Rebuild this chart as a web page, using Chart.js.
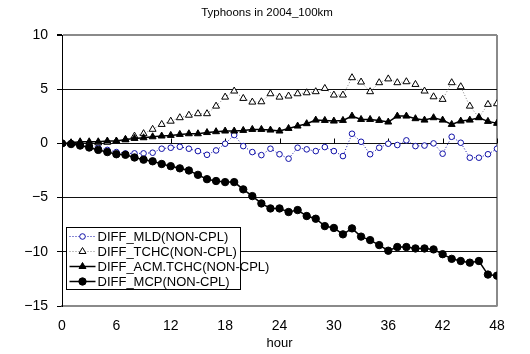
<!DOCTYPE html>
<html><head><meta charset="utf-8">
<script src="https://cdn.jsdelivr.net/npm/chart.js@4.4.1/dist/chart.umd.min.js"></script>
<style>html,body{margin:0;padding:0;background:#fff}#wrap{width:530px;height:354px}</style>
</head><body><div id="wrap"><canvas id="c" width="530" height="354"></canvas></div>
<script>
const hours = [0,1,2,3,4,5,6,7,8,9,10,11,12,13,14,15,16,17,18,19,20,21,22,23,24,25,26,27,28,29,30,31,32,33,34,35,36,37,38,39,40,41,42,43,44,45,46,47,48];
const mld = [0,-0.05,-0.1,-0.2,-0.4,-0.6,-0.8,-0.92,-0.92,-0.92,-0.86,-0.49,-0.4,-0.31,-0.49,-0.71,-1.05,-0.65,-0.03,0.77,-0.25,-0.8,-1.08,-0.49,-1.0,-1.41,-0.4,-0.55,-0.71,-0.34,-0.71,-1.17,0.89,0.15,-1.0,-0.4,-0.03,-0.15,0.28,-0.25,-0.2,0.0,-0.95,0.61,0.06,-1.32,-1.32,-1.0,-0.49];
const tchc = [0,0,0,0,0.05,0.1,0.2,0.33,0.67,0.9,1.3,1.75,2.05,2.37,2.6,2.74,2.74,3.44,4.27,4.83,4.15,3.81,3.84,4.58,4.27,4.37,4.58,4.67,4.77,5.07,4.46,4.46,6.06,5.66,4.77,5.6,5.95,5.6,5.69,5.44,4.83,4.3,4.06,5.6,5.23,3.44,2.4,3.6,3.66];
const acm = [0,0.06,0.15,0.15,0.15,0.22,0.22,0.37,0.46,0.52,0.61,0.68,0.74,0.83,0.89,0.89,1.0,1.08,1.14,1.14,1.2,1.29,1.29,1.23,1.14,1.38,1.6,1.82,2.15,2.12,2.06,2.12,2.52,2.21,2.21,2.12,1.97,2.52,2.52,2.28,2.15,2.37,2.15,1.75,2.06,2.15,2.37,2.03,1.85];
const mcp = [0,-0.06,-0.2,-0.38,-0.6,-0.8,-1.0,-1.05,-1.3,-1.5,-1.65,-1.9,-2.1,-2.3,-2.5,-2.9,-3.3,-3.47,-3.57,-3.57,-4.24,-4.86,-5.54,-6.0,-6.0,-6.33,-6.15,-6.7,-6.95,-7.63,-7.8,-8.39,-7.84,-8.6,-8.92,-9.38,-9.9,-9.56,-9.56,-9.69,-9.69,-9.78,-10.22,-10.65,-10.85,-11.0,-10.85,-12.1,-12.2];
const xTicks = [0,6,12,18,24,30,36,42,48];
const yTicks = [-15,-10,-5,0,5,10];
const seriesNames = ['DIFF_MLD(NON-CPL)','DIFF_TCHC(NON-CPL)','DIFF_ACM.TCHC(NON-CPL)','DIFF_MCP(NON-CPL)'];
const titleText = 'Typhoons in 2004_100km';
const xTitle = 'hour';

const FONT = "'Liberation Sans', Arial, sans-serif";
Chart.defaults.font.family = FONT;
Chart.defaults.color = '#000';

const pts = arr => hours.map((h, i) => ({x: h, y: arr[i]}));

function marker(ctx, style, r, x, y) {
  ctx.beginPath();
  if (style === 'circle') {
    ctx.arc(x, y, r, 0, Math.PI * 2);
  } else {
    let a = 0;
    ctx.moveTo(x + Math.sin(a) * r, y - Math.cos(a) * r);
    a += 2 * Math.PI / 3;
    ctx.lineTo(x + Math.sin(a) * r, y - Math.cos(a) * r);
    a += 2 * Math.PI / 3;
    ctx.lineTo(x + Math.sin(a) * r, y - Math.cos(a) * r);
    ctx.closePath();
  }
  ctx.fill(); ctx.stroke();
}

const titleShift = {
  id: 'titleShift',
  afterLayout(chart) {
    if (chart.titleBlock) { chart.titleBlock.left += 37; }
  }
};

const zeroAxisTicks = {
  id: 'zeroAxisTicks',
  beforeDatasetsDraw(chart) {
    const {ctx, scales: {x, y}} = chart;
    const y0 = Math.round(y.getPixelForValue(0)) + 0.5;
    ctx.save();
    ctx.strokeStyle = '#000'; ctx.lineWidth = 1;
    ctx.beginPath();
    x.ticks.forEach(t => {
      if (t.value === 0) return;
      const px = Math.round(x.getPixelForValue(t.value)) + 0.5;
      ctx.moveTo(px, y0); ctx.lineTo(px, y0 - 5);
    });
    ctx.stroke();
    ctx.restore();
  }
};

const boxLegend = {
  id: 'boxLegend',
  afterDatasetsDraw(chart) {
    const {ctx, chartArea: ca} = chart;
    const left = Math.round(ca.left + 4) + 0.5;
    const top = Math.round(ca.top + 192) + 0.5;
    const w = 174, h = 62;
    ctx.save();
    ctx.fillStyle = '#fff'; ctx.strokeStyle = '#000'; ctx.lineWidth = 1;
    ctx.fillRect(left, top, w, h);
    ctx.strokeRect(left, top, w, h);
    chart.data.datasets.forEach((ds, i) => {
      const cy = top + 9 + i * 15;
      ctx.save();
      ctx.strokeStyle = ds.borderColor; ctx.lineWidth = ds.borderWidth;
      ctx.setLineDash(ds.borderDash || []);
      ctx.beginPath(); ctx.moveTo(left + 3, cy); ctx.lineTo(left + 29, cy); ctx.stroke();
      ctx.setLineDash([]);
      ctx.lineWidth = ds.pointBorderWidth;
      ctx.strokeStyle = ds.pointBorderColor; ctx.fillStyle = ds.pointBackgroundColor;
      marker(ctx, ds.pointStyle, ds.pointRadius, left + 16, cy);
      ctx.restore();
      ctx.fillStyle = '#000';
      ctx.font = "13px 'Liberation Sans Narrow', 'Liberation Sans', Arial, sans-serif";
      ctx.textBaseline = 'middle'; ctx.textAlign = 'left';
      ctx.fillText(ds.label, left + 31, cy + 0.5);
    });
    ctx.restore();
  }
};

new Chart(document.getElementById('c'), {
  type: 'line',
  data: {
    datasets: [
      {label: seriesNames[0], data: pts(mld), order: 4, borderColor: '#1010a8', borderWidth: 1, borderDash: [1, 2],
       pointStyle: 'circle', pointRadius: 2.8, pointBorderColor: '#1010a8', pointBackgroundColor: '#fff', pointBorderWidth: 1},
      {label: seriesNames[1], data: pts(tchc), order: 3, borderColor: '#808080', borderWidth: 1, borderDash: [1, 2],
       pointStyle: 'triangle', pointRadius: 4, pointBorderColor: '#000', pointBackgroundColor: '#fff', pointBorderWidth: 1},
      {label: seriesNames[2], data: pts(acm), order: 2, borderColor: '#000', borderWidth: 1.5,
       pointStyle: 'triangle', pointRadius: 4, pointBorderColor: '#000', pointBackgroundColor: '#000', pointBorderWidth: 1},
      {label: seriesNames[3], data: pts(mcp), order: 1, borderColor: '#000', borderWidth: 1.5,
       pointStyle: 'circle', pointRadius: 3.7, pointBorderColor: '#000', pointBackgroundColor: '#000', pointBorderWidth: 1}
    ]
  },
  options: {
    responsive: false, animation: false, devicePixelRatio: 1,
    layout: {padding: {left: 0, right: 33, top: 0, bottom: 0}},
    elements: {line: {tension: 0}},
    plugins: {
      legend: {display: false}, tooltip: {enabled: false},
      title: {display: true, text: titleText, color: '#000', font: {size: 11.5, weight: 'normal'}, padding: {top: 6.2, bottom: 15}}
    },
    scales: {
      x: {
        type: 'linear', min: 0, max: 48,
        afterBuildTicks: s => { s.ticks = xTicks.map(v => ({value: v})); },
        afterFit: s => { s.height = 48; s.paddingLeft = 0; s.paddingRight = 0; },
        ticks: {font: {size: 14}, padding: 11.6, maxRotation: 0, color: '#000'},
        grid: {drawTicks: false, color: c => c.tick && c.tick.value === 48 ? '#8a8a8a' : 'rgba(0,0,0,0)', lineWidth: c => c.tick && c.tick.value === 48 ? 2 : 1},
        border: {color: '#8a8a8a', width: 1.5},
        title: {display: true, text: xTitle, font: {size: 13}, color: '#000', padding: {top: 0, bottom: 3.2}}
      },
      y: {
        min: -15, max: 10,
        afterBuildTicks: s => { s.ticks = yTicks.map(v => ({value: v})); },
        afterFit: s => { s.width = 62; s.paddingTop = 0; s.paddingBottom = 0; },
        ticks: {font: {size: 14}, padding: 9, color: '#000', callback: v => v < 0 ? '\u2212' + Math.abs(v) : String(v)},
        grid: {color: c => (c.tick && (c.tick.value === 10 || c.tick.value === -15)) ? '#8a8a8a' : '#111',
               lineWidth: c => (c.tick && c.tick.value === 10) ? 2 : 1, tickLength: 5, tickColor: '#000'},
        border: {color: '#000', width: 1}
      }
    }
  },
  plugins: [titleShift, zeroAxisTicks, boxLegend]
});
</script>
</body></html>
